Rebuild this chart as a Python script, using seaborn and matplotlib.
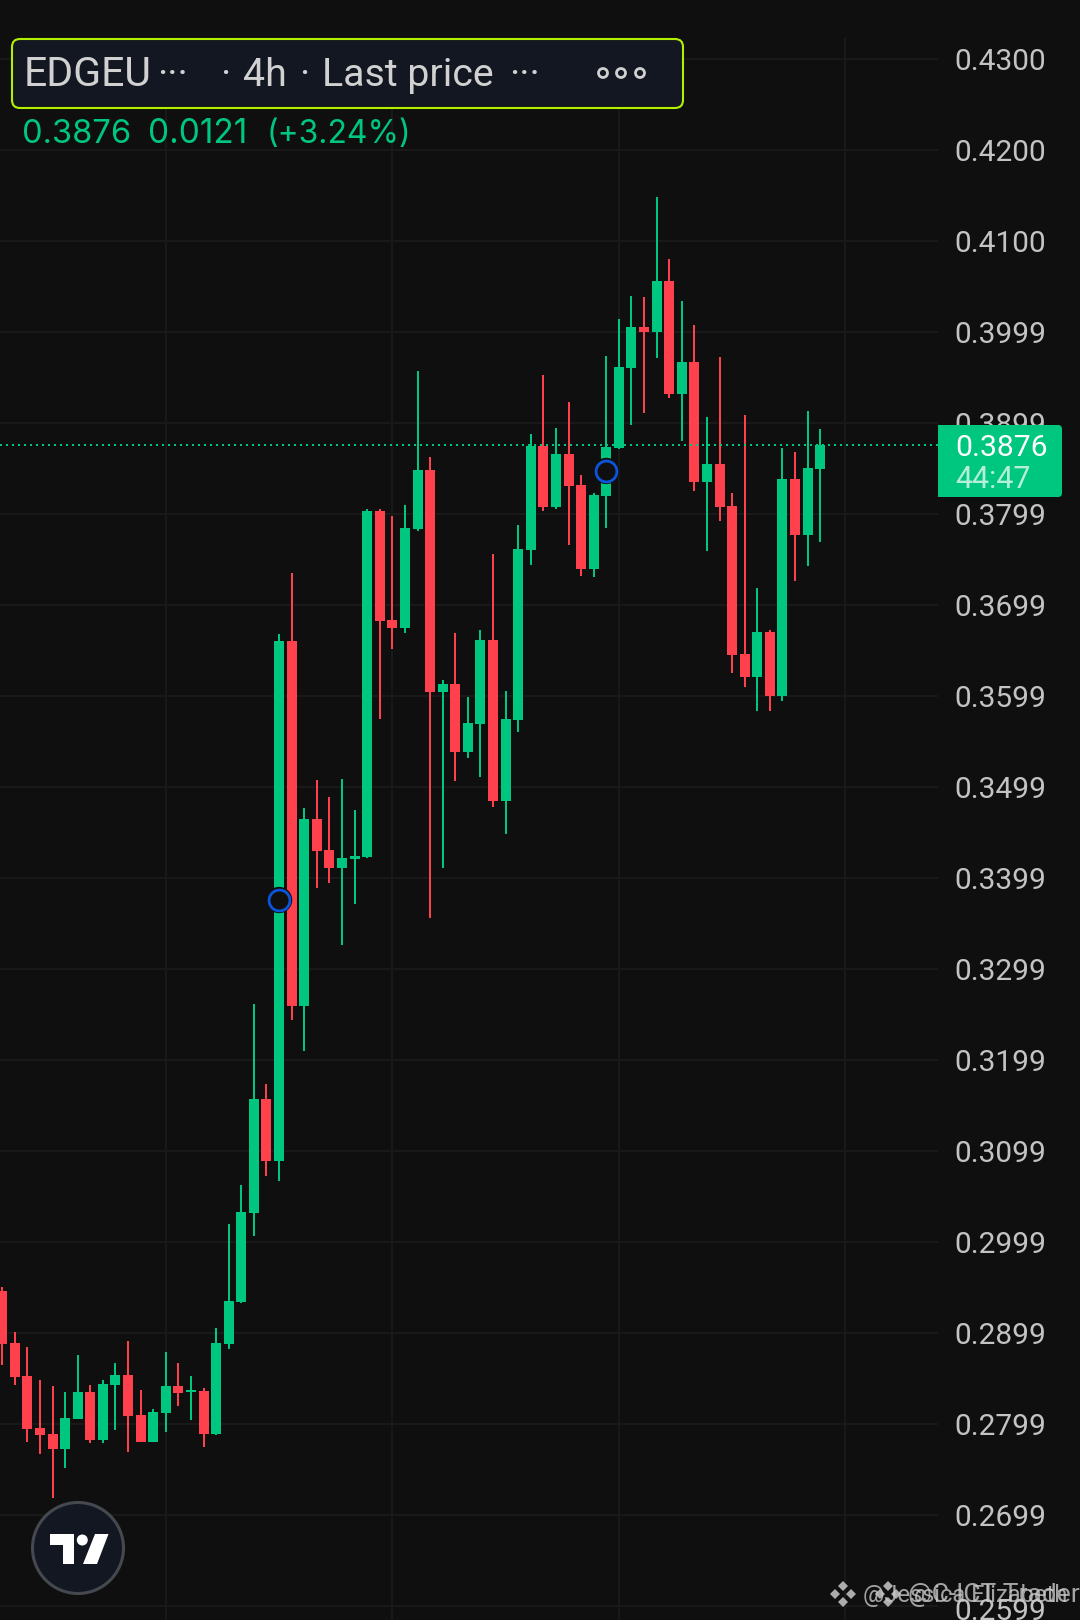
import numpy as np
import pandas as pd
import matplotlib
matplotlib.use("Agg")
import matplotlib.pyplot as plt
from matplotlib.patches import Circle, FancyBboxPatch, Polygon
from matplotlib.transforms import ScaledTranslation
import seaborn as sns

# candles, oldest first
opens = [0.29452,0.28880,0.28517,0.27946,0.27880,0.27715,0.28045,0.28342,0.27814,0.28419,0.28528,0.28089,0.27792,0.28111,0.28408,0.28342,
         0.28353,0.27880,0.28869,0.29331,0.30309,0.31561,0.30880,0.36594,0.32583,0.34638,0.34298,0.34100,0.34199,0.34221,0.38023,0.36825,
         0.36737,0.37825,0.38474,0.36034,0.36122,0.35375,0.35682,0.36605,0.34836,0.35726,0.37594,0.38737,0.38067,0.38649,0.38309,0.37386,
         0.38188,0.38715,0.39594,0.40045,0.39990,0.40550,0.39309,0.39660,0.38342,0.38539,0.38078,0.36452,0.36199,0.36693,0.35990,0.38375,
         0.37759,0.38485]
highs = [0.29495,0.29001,0.28836,0.28474,0.28408,0.28342,0.28748,0.28419,0.28474,0.28660,0.28902,0.28364,0.28155,0.28781,0.28660,0.28517,
         0.28386,0.29045,0.30188,0.30616,0.32605,0.31726,0.36671,0.37342,0.34759,0.35067,0.34880,0.35078,0.34737,0.38045,0.38045,0.37968,
         0.38089,0.39561,0.38616,0.36166,0.36682,0.35979,0.36715,0.37550,0.36045,0.37869,0.38869,0.39517,0.38935,0.39221,0.38419,0.38221,
         0.39726,0.40133,0.40386,0.40375,0.41474,0.40792,0.40331,0.40067,0.39056,0.39715,0.38221,0.39078,0.37177,0.36715,0.38715,0.38671,
         0.39122,0.38924]
lows = [0.28638,0.28419,0.27792,0.27660,0.27177,0.27506,0.28045,0.27781,0.27781,0.27924,0.27682,0.27792,0.27792,0.27902,0.28188,0.28034,
        0.27737,0.27869,0.28814,0.29320,0.30056,0.30715,0.30660,0.32430,0.32089,0.33880,0.33935,0.33254,0.33704,0.34210,0.35737,0.36506,
        0.36682,0.37803,0.33550,0.34100,0.35056,0.35309,0.35100,0.34770,0.34474,0.35594,0.37430,0.38023,0.38045,0.37649,0.37309,0.37298,
        0.37836,0.38704,0.38968,0.39100,0.39704,0.39265,0.38792,0.38243,0.37583,0.37913,0.36243,0.36089,0.35825,0.35825,0.35935,0.37254,
        0.37419,0.37682]
closes = [0.28869,0.28507,0.27935,0.27869,0.27715,0.28056,0.28342,0.27814,0.28430,0.28528,0.28078,0.27792,0.28122,0.28408,0.28331,0.28364,
          0.27880,0.28880,0.29342,0.30320,0.31561,0.30880,0.36594,0.32583,0.34638,0.34287,0.34100,0.34210,0.34232,0.38023,0.36814,0.36737,
          0.37836,0.38474,0.36034,0.36122,0.35375,0.35693,0.36605,0.34836,0.35737,0.37605,0.38737,0.38067,0.38649,0.38298,0.37386,0.38199,
          0.38726,0.39605,0.40045,0.39990,0.40550,0.39309,0.39660,0.38342,0.38539,0.38067,0.36441,0.36199,0.36693,0.35990,0.38375,0.37759,
          0.38495,0.38748]
circle_candles = [22, 48]
circle_prices = [0.33748, 0.38463]
last_price = 0.38748

price_ticks = [0.2599,0.2699,0.2799,0.2899,0.2999,0.3099,0.3199,0.3299,0.3399,0.3499,0.3599,0.3699,0.3799,0.3899,0.3999,0.4099,0.4199,0.4299]
price_labels = ["0.2599","0.2699","0.2799","0.2899","0.2999","0.3099","0.3199","0.3299","0.3399","0.3499","0.3599","0.3699","0.3799","0.3899","0.3999","0.4100","0.4200","0.4300"]
time_ticks = [13, 31, 49, 67]

BG = "#0f0f0f"
GRID = "#191919"
UP = "#00c77f"
DOWN = "#ff404d"
LABEL = "#c3c3c3"

sns.set_theme(style="dark", rc={"axes.facecolor": BG, "figure.facecolor": BG})
plt.rcParams["font.family"] = ["Roboto", "DejaVu Sans"]

rows = []
for i in range(len(opens)):
    direction = "up" if closes[i] >= opens[i] else "down"
    rows.append({"candle": i, "direction": direction, "wick_a": lows[i], "wick_b": highs[i], "body_a": opens[i], "body_b": closes[i]})
df = pd.DataFrame(rows)
wicks = df.melt(id_vars=["candle", "direction"], value_vars=["wick_a", "wick_b"], value_name="price")
bodies = df.melt(id_vars=["candle", "direction"], value_vars=["body_a", "body_b"], value_name="price")
colors = {"up": UP, "down": DOWN}

fig = plt.figure(figsize=(10.8, 16.2), dpi=100)
# pane stops at x=938 and y=38, the price scale sits to the right of it
ax = fig.add_axes([0, 0, 938 / 1080, (1620 - 38) / 1620])

# 12.585 px per candle, 9100 px per unit of price
ax.set_xlim(-2.2 / 12.585, (938 - 2.2) / 12.585)
ax.set_ylim(0.2599 - 14 / 9100, 0.2599 + (1606 - 38) / 9100)

ax.set_yticks(price_ticks)
ax.set_yticklabels(price_labels, fontsize=21.5, color=LABEL)
ax.yaxis.tick_right()
ax.tick_params(axis="y", length=0, pad=12)
ax.get_yticklabels()[0].set_transform(ax.get_yticklabels()[0].get_transform() + ScaledTranslation(0, -3 / 100, fig.dpi_scale_trans))
ax.set_xticks(time_ticks)
ax.tick_params(axis="x", length=0, labelbottom=False)
ax.grid(True, color=GRID, linewidth=1.44)
ax.set_axisbelow(True)
for s in ax.spines.values():
    s.set_visible(False)

sns.lineplot(data=wicks, x="candle", y="price", units="candle", estimator=None, hue="direction", palette=colors,
             linewidth=1.44, legend=False, sort=False, ax=ax, solid_capstyle="butt", zorder=2)
sns.lineplot(data=bodies, x="candle", y="price", units="candle", estimator=None, hue="direction", palette=colors,
             linewidth=7.2, legend=False, sort=False, ax=ax, solid_capstyle="butt", zorder=3)
ax.set_xlabel("")
ax.set_ylabel("")

# last price line, then the two event circles
ax.axhline(last_price, color=UP, linewidth=1.44, linestyle=(0, (1, 2)), zorder=4)
sns.scatterplot(x=circle_candles, y=circle_prices, s=360, color=BG, edgecolor="none", linewidth=0, ax=ax, zorder=5, legend=False)
sns.scatterplot(x=circle_candles, y=circle_prices, s=225, color=BG, edgecolor="#0b55dc", linewidth=2.0, ax=ax, zorder=6, legend=False)

# everything below is the app's chrome, placed in picture pixels
ui = fig.add_axes([0, 0, 1, 1], facecolor="none")
ui.set_xlim(0, 1080)
ui.set_ylim(1620, 0)
ui.axis("off")

ui.add_patch(FancyBboxPatch((12, 39), 671, 69, boxstyle="round,pad=0,rounding_size=8", facecolor="#131722", edgecolor="#b2f000", linewidth=1.5))
TITLE = "#d1d1d1"
ui.text(24, 86, "EDGEU", fontsize=29.5, color=TITLE, va="baseline", ha="left")
for x, txt in [(157, "···"), (220, "·"), (243, "4h"), (299, "·"), (322, "Last price"), (509, "···")]:
    ui.text(x, 86, txt, fontsize=28.3, color=TITLE, va="baseline", ha="left")
for x in [603, 621, 640]:
    ui.add_patch(Circle((x, 73), 4.5, facecolor="none", edgecolor=TITLE, linewidth=2))

for x, txt, size in [(22, "0.3876", 23.5), (148, "0.0121", 24), (267, "(+3.24%)", 23)]:
    ui.text(x, 143, txt, fontsize=size, color=UP, va="baseline", ha="left", family=["Inter", "DejaVu Sans"])

# price tag
ui.add_patch(FancyBboxPatch((938, 425), 124, 72, boxstyle="round,pad=0,rounding_size=4", facecolor=UP, edgecolor="none", zorder=5))
ui.add_patch(plt.Rectangle((938, 425), 10, 72, facecolor=UP, edgecolor="none", zorder=5))
ui.text(955, 448, "0.3876", fontsize=21.7, color="white", va="center", ha="left", zorder=6)
ui.text(955, 480, "44:47", fontsize=22, color="#b5eedb", va="center", ha="left", zorder=6)

# logo
ui.add_patch(Circle((78, 1548), 45.5, facecolor="#131722", edgecolor="#45484f", linewidth=2.2))
ui.add_patch(Polygon([(50, 1534), (74, 1534), (74, 1564), (63, 1564), (63, 1545), (50, 1545)], facecolor="white", edgecolor="none"))
ui.add_patch(Circle((82.3, 1540), 5.5, facecolor="white", edgecolor="none"))
ui.add_patch(Polygon([(95, 1534), (108.5, 1534), (97, 1564), (83, 1564)], facecolor="white", edgecolor="none"))

# watermark, two copies on top of each other
WM = "#c9c9c9"
for cx in [843, 888]:
    for dx, dy in [(0, -8), (0, 8), (-8, 0), (8, 0)]:
        ui.add_patch(Polygon([(cx + dx, 1594 + dy - 5), (cx + dx + 5, 1594 + dy), (cx + dx, 1594 + dy + 5), (cx + dx - 5, 1594 + dy)], facecolor=WM, edgecolor="none", alpha=0.85))
ui.text(863, 1602, "@Jessica Elizabeth", fontsize=17, color=WM, alpha=0.8, va="baseline", ha="left")
ui.text(908, 1602, "@C-ICT Trader", fontsize=19, color=WM, alpha=0.8, va="baseline", ha="left")

fig.savefig("out.png", dpi=100, facecolor=BG)
